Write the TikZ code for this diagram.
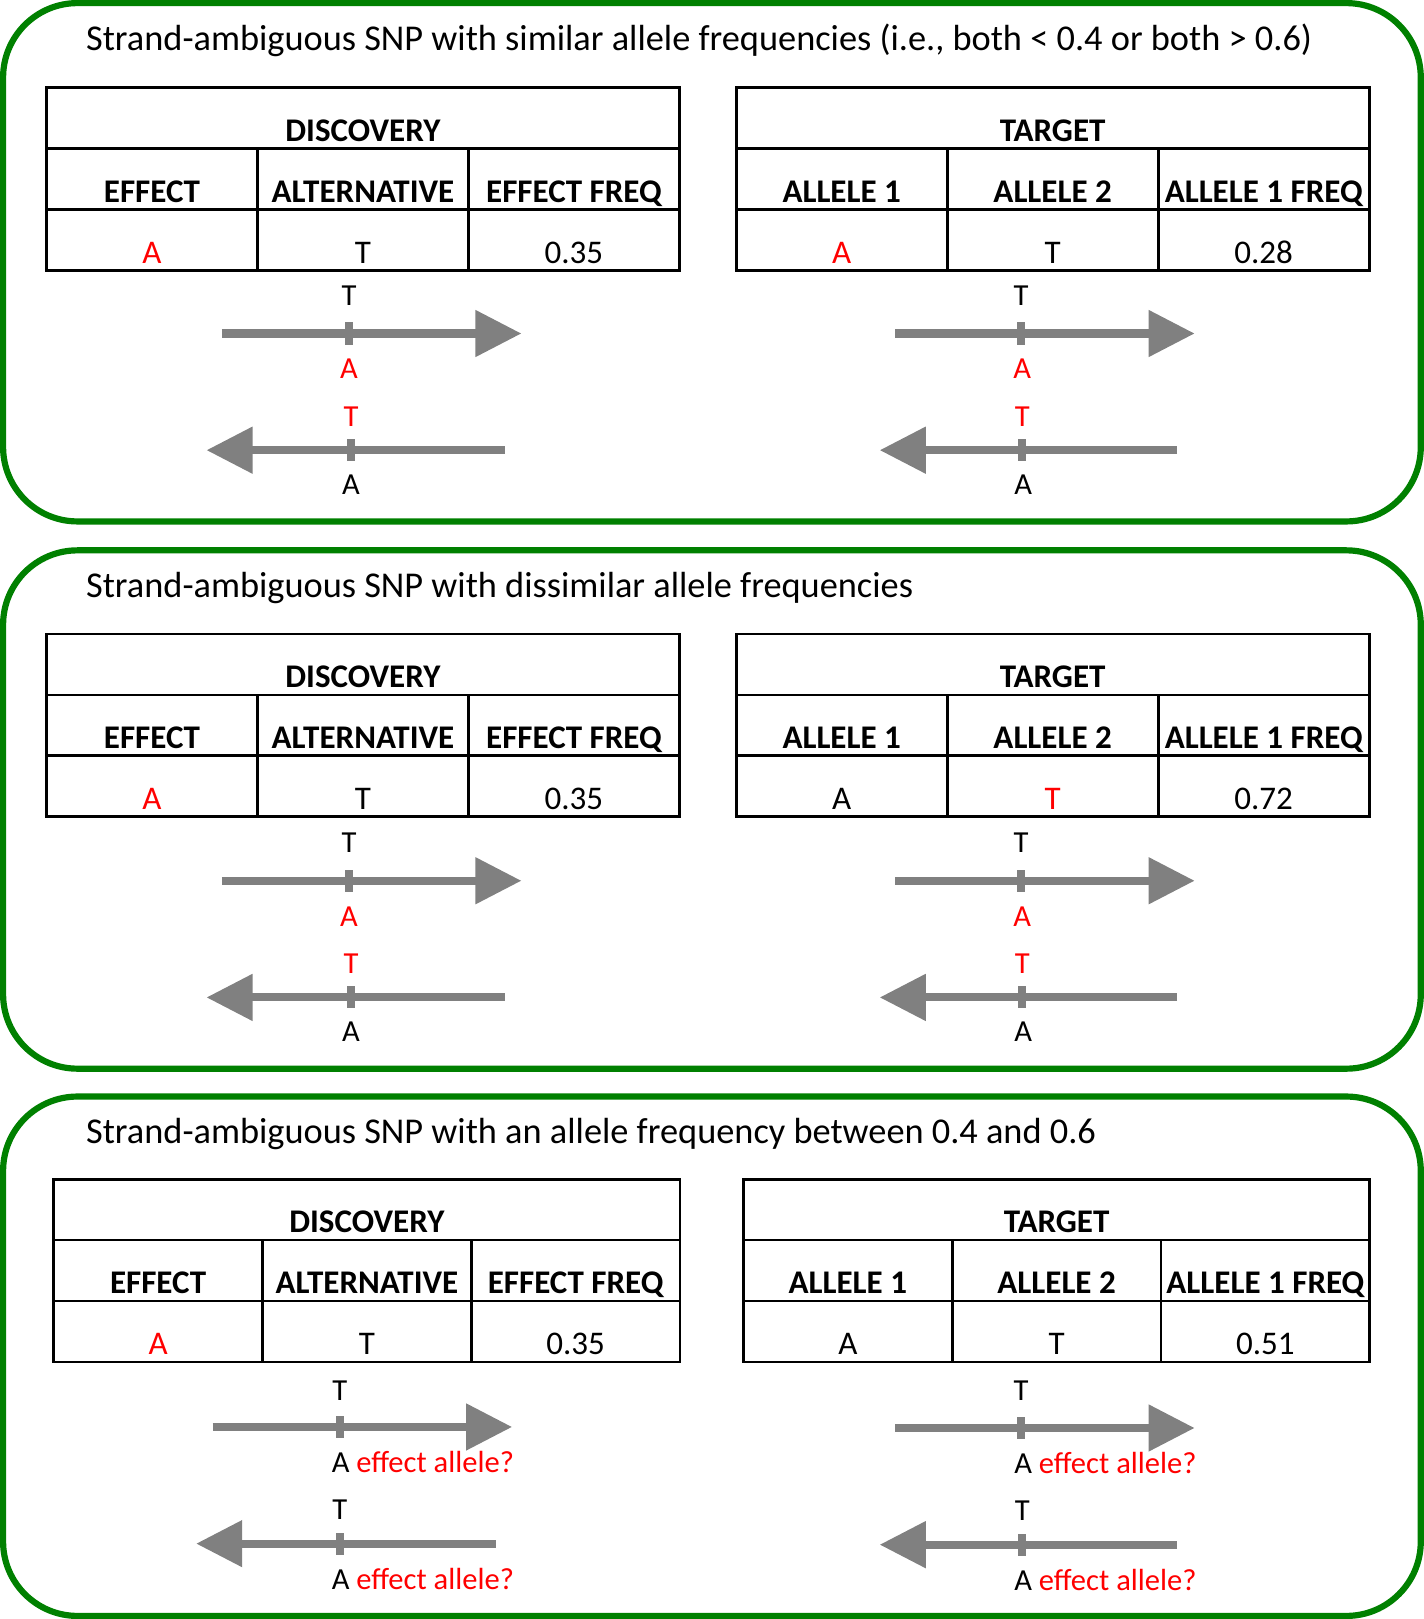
\documentclass[tikz,border=0pt]{standalone}
\usepackage{fontspec}
\setmainfont{Carlito}
\usetikzlibrary{arrows.meta}

\definecolor{panelgreen}{RGB}{0,128,0}
\definecolor{strandgray}{RGB}{128,128,128}
\newcommand{\effallele}[1]{\textcolor{red}{#1}}

\begin{document}
\begin{tikzpicture}[x=0.5pt, y=-0.5pt,
  panel/.style={draw=panelgreen, line width=3pt, rounded corners=36pt},
  title/.style={anchor=base west, inner sep=0pt, font=\fontsize{17.6}{21}\selectfont},
  cell/.style={draw, line width=1.3pt, inner sep=0pt, outer sep=0pt, anchor=north west,
    minimum height=29.5pt, text height=26pt, text depth=3.5pt, font=\fontsize{16}{19}\selectfont},
  headcell/.style={cell, font=\fontsize{16}{19}\selectfont\bfseries},
  strand/.style={draw=strandgray, line width=3.9pt, -{Triangle[length=22.3pt, width=21.8pt]}},
  tick/.style={fill=strandgray, inner sep=0pt, minimum width=3.9pt, minimum height=10.7pt},
  base/.style={anchor=base, inner sep=0pt, font=\fontsize{14.8}{17}\selectfont},
  basew/.style={anchor=base west, inner sep=0pt, font=\fontsize{14.8}{17}\selectfont}]
  \useasboundingbox (0,0) rectangle (1379,1568);

  % Panels
  \draw[panel] (3,3) rectangle (1376,505);
  \draw[panel] (3,533) rectangle (1376,1035);
  \draw[panel] (3,1062) rectangle (1376,1565);
  \node[title] (title1) at (83,48.5) {Strand-ambiguous SNP with similar allele frequencies (i.e., both < 0.4 or both > 0.6)};
  \node[title] (title2) at (83,578.5) {Strand-ambiguous SNP with dissimilar allele frequencies};
  \node[title] (title3) at (83,1107.5) {Strand-ambiguous SNP with an allele frequency between 0.4 and 0.6};

  % Tables
  \foreach \tn/\tx/\ty/\cw/\thead/\ca/\cb/\cc/\va/\vb/\vc in {
    disc1/45/85/102.17pt/DISCOVERY/EFFECT/ALTERNATIVE/EFFECT FREQ/\effallele{A}/T/0.35,
    targ1/713/85/102.17pt/TARGET/ALLELE 1/ALLELE 2/ALLELE 1 FREQ/\effallele{A}/T/0.28,
    disc2/45/614/102.17pt/DISCOVERY/EFFECT/ALTERNATIVE/EFFECT FREQ/\effallele{A}/T/0.35,
    targ2/713/614/102.17pt/TARGET/ALLELE 1/ALLELE 2/ALLELE 1 FREQ/A/\effallele{T}/0.72,
    disc3/52/1142/101.1pt/DISCOVERY/EFFECT/ALTERNATIVE/EFFECT FREQ/\effallele{A}/T/0.35,
    targ3/720/1142/101.1pt/TARGET/ALLELE 1/ALLELE 2/ALLELE 1 FREQ/A/T/0.51}
  {
    \node[headcell, minimum width=3*\cw] (\tn-h) at (\tx,\ty) {\thead};
    \node[headcell, minimum width=\cw] (\tn-a) at (\tn-h.south west) {\ca};
    \node[headcell, minimum width=\cw] (\tn-b) at (\tn-a.north east) {\cb};
    \node[headcell, minimum width=\cw] (\tn-c) at (\tn-b.north east) {\cc};
    \node[cell, minimum width=\cw] (\tn-x) at (\tn-a.south west) {\va};
    \node[cell, minimum width=\cw] (\tn-y) at (\tn-x.north east) {\vb};
    \node[cell, minimum width=\cw] (\tn-z) at (\tn-y.north east) {\vc};
  }

  % Strands
  \foreach \sn/\sx/\ex/\sy/\kx in {
    p1lf/215/505/323/338, p1lr/489/200/436/340, p1rf/867/1157/323/989, p1rr/1140/852/436/990,
    p2lf/215/505/853/338, p2lr/489/200/966/340, p2rf/867/1157/853/989, p2rr/1140/852/966/990,
    p3lf/206/496/1382/329, p3lr/480/190/1495/329, p3rf/867/1157/1383/989, p3rr/1140/852/1496/990}
  {
    \coordinate (\sn-s) at (\sx,\sy);
    \coordinate (\sn-e) at (\ex,\sy);
    \draw[strand] (\sn-s) -- (\sn-e);
    \node[tick] (\sn-k) at (\kx,\sy) {};
  }

  % Alleles
  \node[base] (p1lf-up) at (338,296) {T};
  \node[base, red] (p1lf-dn) at (338,367) {A};
  \node[base, red] (p1lr-up) at (340,413) {T};
  \node[base] (p1lr-dn) at (340,479) {A};
  \node[base] (p1rf-up) at (989,296) {T};
  \node[base, red] (p1rf-dn) at (990,367) {A};
  \node[base, red] (p1rr-up) at (990,413) {T};
  \node[base] (p1rr-dn) at (991,479) {A};

  \node[base] (p2lf-up) at (338,826) {T};
  \node[base, red] (p2lf-dn) at (338,897) {A};
  \node[base, red] (p2lr-up) at (340,943) {T};
  \node[base] (p2lr-dn) at (340,1009) {A};
  \node[base] (p2rf-up) at (989,826) {T};
  \node[base, red] (p2rf-dn) at (990,897) {A};
  \node[base, red] (p2rr-up) at (990,943) {T};
  \node[base] (p2rr-dn) at (991,1009) {A};

  \node[base] (p3lf-up) at (329,1356) {T};
  \node[basew] (p3lf-dn) at (321,1426) {A \effallele{effect allele?}};
  \node[base] (p3lr-up) at (329,1472) {T};
  \node[basew] (p3lr-dn) at (321,1539) {A \effallele{effect allele?}};
  \node[base] (p3rf-up) at (989,1356) {T};
  \node[basew] (p3rf-dn) at (982,1427) {A \effallele{effect allele?}};
  \node[base] (p3rr-up) at (990,1473) {T};
  \node[basew] (p3rr-dn) at (982,1540) {A \effallele{effect allele?}};
\end{tikzpicture}
\end{document}
